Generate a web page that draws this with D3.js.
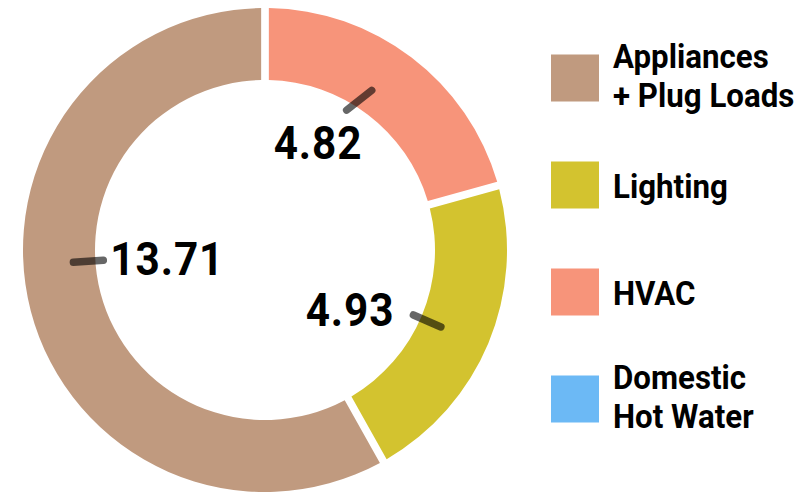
<!DOCTYPE html>
<html>
<head>
<meta charset="utf-8">
<script src="https://cdn.jsdelivr.net/npm/d3@7"></script>
<style>
  html, body { margin: 0; padding: 0; background: #fff; }
  svg { display: block; }
  text { font-family: Roboto, "Noto Sans", sans-serif; font-weight: 700; fill: #000; }
</style>
</head>
<body>
<svg id="chart" width="802" height="492"></svg>
<script>
// End-use energy breakdown
const categories = ["Appliances\n+ Plug Loads", "Lighting", "HVAC", "Domestic\nHot Water"];
const values = [13.71, 4.93, 4.82, 0];
const colors = ["#c09a7f", "#d3c32f", "#f7947a", "#6cb9f5"];

// Label layout: angular nudges from slice mid-angle (deg) for the leader's inner and
// outer ends, plus text anchor and offset from the leader's inner end
const labelLayout = {
  "HVAC": { nudgeIn: -7, nudgeOut: -3.5, anchor: "start", dx: -73, dy: 49 },
  "Lighting": { nudgeIn: 1, nudgeOut: 1, anchor: "end", dx: -19, dy: 11 },
  "Appliances\n+ Plug Loads": { nudgeIn: 11, nudgeOut: 11, anchor: "start", dx: 7, dy: 15 }
};

const svg = d3.select("#chart");
const cx = 265, cy = 250;
const outerR = 242, innerR = 170;
const squeeze = 0.92;

const data = categories.map((c, i) => ({ name: c, value: values[i], color: colors[i] }));

// Slices run clockwise from the top in reverse legend order
const pie = d3.pie()
  .sort(null)
  .value(d => d.value)
  .padAngle(0.026);

const arcs = pie(data.filter(d => d.value > 0).reverse());

const arc = d3.arc().innerRadius(innerR).outerRadius(outerR);

const g = svg.append("g").attr("transform", `translate(${cx},${cy})`);

g.selectAll("path.slice")
  .data(arcs)
  .join("path")
  .attr("class", "slice")
  .attr("d", arc)
  .attr("fill", d => d.data.color);

// Leader lines and value labels
const leadIn = 162, leadOut = 192;
const rad = Math.PI / 180;
const polar = (a, r) => [Math.sin(a) * r, -Math.cos(a) * r];

arcs.forEach(d => {
  const lay = labelLayout[d.data.name];
  const mid = (d.startAngle + d.endAngle) / 2;
  const p0 = polar(mid + lay.nudgeIn * rad, leadIn);
  const p1 = polar(mid + lay.nudgeOut * rad, leadOut);
  g.append("line")
    .attr("x1", p0[0]).attr("y1", p0[1])
    .attr("x2", p1[0]).attr("y2", p1[1])
    .attr("stroke", "rgba(0,0,0,0.6)")
    .attr("stroke-width", 7.5)
    .attr("stroke-linecap", "round");
  g.append("text")
    .attr("transform", `translate(${p0[0] + lay.dx},${p0[1] + lay.dy}) scale(${squeeze},1)`)
    .attr("text-anchor", lay.anchor)
    .attr("font-size", 46)
    .attr("letter-spacing", 1)
    .text(d3.format(".2f")(d.data.value));
});

// Legend
const legendY = d3.scalePoint().domain(categories).range([78, 399]);
const legend = svg.append("g");

categories.forEach((c, i) => {
  const yc = legendY(c);
  legend.append("rect")
    .attr("x", 551).attr("y", yc - 23.5)
    .attr("width", 48).attr("height", 47)
    .attr("fill", colors[i]);
  const lines = c.split("\n");
  const first = lines.length > 1 ? yc - 10 : yc + 13;
  lines.forEach((ln, j) => {
    legend.append("text")
      .attr("transform", `translate(613,${first + j * 39}) scale(${squeeze},1)`)
      .attr("font-size", 34)
      .text(ln);
  });
});
</script>
</body>
</html>
